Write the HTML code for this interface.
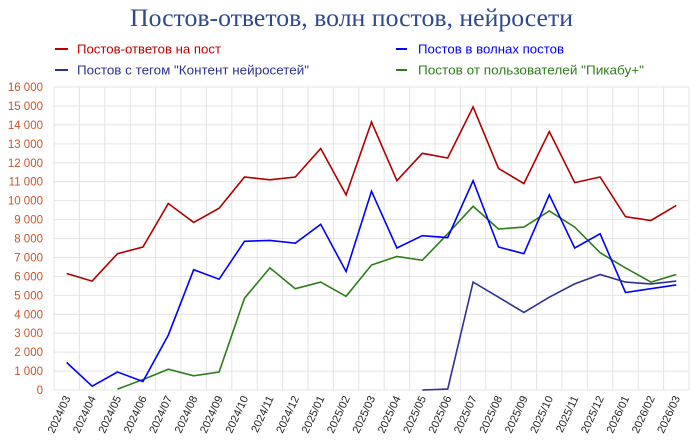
<!DOCTYPE html>
<html><head><meta charset="utf-8"><style>
body{margin:0;background:#fff;width:700px;height:445px;overflow:hidden}
svg{display:block}
text{font-family:"Liberation Sans","DejaVu Sans",sans-serif}
</style></head><body>
<svg id="s" width="700" height="445" xmlns="http://www.w3.org/2000/svg">
<text x="130" y="26" textLength="443" lengthAdjust="spacingAndGlyphs" style="font-family:'Liberation Serif',serif;font-size:25px" fill="#2f4a8a">Постов-ответов, волн постов, нейросети</text>
<line x1="55" y1="49" x2="68" y2="49" stroke="#c00000" stroke-width="2"/>
<text x="77" y="53.5" font-size="12.5" textLength="144" lengthAdjust="spacingAndGlyphs" fill="#c00000">Постов-ответов на пост</text>
<line x1="55" y1="70" x2="68" y2="70" stroke="#2e3192" stroke-width="2"/>
<text x="77" y="74.5" font-size="12.5" textLength="232" lengthAdjust="spacingAndGlyphs" fill="#2e3192">Постов с тегом "Контент нейросетей"</text>
<line x1="396" y1="49" x2="407" y2="49" stroke="#0000ff" stroke-width="2"/>
<text x="418" y="53.5" font-size="12.5" textLength="146" lengthAdjust="spacingAndGlyphs" fill="#0000ff">Постов в волнах постов</text>
<line x1="396" y1="70" x2="407" y2="70" stroke="#2e7d1a" stroke-width="2"/>
<text x="418" y="74.5" font-size="12.5" textLength="226" lengthAdjust="spacingAndGlyphs" fill="#2e7d1a">Постов от пользователей "Пикабу+"</text>
<g id="g"></g>
</svg>
<script>
var g=document.getElementById('g'),h='';
var L=54,R=689,T=87,B=390,n=25,st=(R-L)/n;
function Y(v){return B-(B-T)*v/16;}
for(var i=0;i<=16;i++){var y=Y(i);h+='<line x1="'+L+'" x2="'+R+'" y1="'+y+'" y2="'+y+'" stroke="#e4e4e4" stroke-width="1"/>';
h+='<text x="43" y="'+(y+4)+'" font-size="11.5" text-anchor="end" fill="#c9552a">'+(i==0?'0':(i+' 000'))+'</text>';}
for(var i=0;i<=n;i++){var x=L+i*st;h+='<line x1="'+x+'" x2="'+x+'" y1="'+T+'" y2="'+B+'" stroke="#e4e4e4" stroke-width="1"/>';}
var labs=[];for(var i=0;i<n;i++){var m=3+i,yr=2024+Math.floor((m-1)/12),mm=((m-1)%12)+1;labs.push(yr+'/'+(mm<10?'0':'')+mm);}
labs.forEach(function(l,i){var x=L+st*(i+0.5)+4;h+='<text transform="translate('+x+',398) rotate(-65)" font-size="11" text-anchor="end" fill="#222">'+l+'</text>';});
function line(d,s,c){var p=d.map(function(v,i){return (L+st*(i+s+0.5)).toFixed(1)+','+Y(v).toFixed(1)}).join(' ');h+='<polyline points="'+p+'" fill="none" stroke="'+c+'" stroke-width="1.6"/>';}
line([6.15,5.75,7.2,7.55,9.85,8.85,9.6,11.25,11.1,11.25,12.75,10.3,14.15,11.05,12.5,12.25,14.95,11.7,10.9,13.65,10.95,11.25,9.15,8.95,9.75],0,'#b00000');
line([0.05,0.55,1.1,0.75,0.95,4.85,6.45,5.35,5.7,4.95,6.6,7.05,6.85,8.25,9.7,8.5,8.6,9.45,8.6,7.25,6.45,5.7,6.1],2,'#2e7d1a');
line([1.45,0.2,0.95,0.45,2.9,6.35,5.85,7.85,7.9,7.75,8.75,6.25,10.5,7.5,8.15,8.05,11.05,7.55,7.2,10.3,7.5,8.25,5.15,5.35,5.55],0,'#0000ff');
line([0,0.05,5.7,4.9,4.1,4.9,5.6,6.1,5.7,5.6,5.75],14,'#2e3192');
g.innerHTML=h;
</script>
</body></html>
